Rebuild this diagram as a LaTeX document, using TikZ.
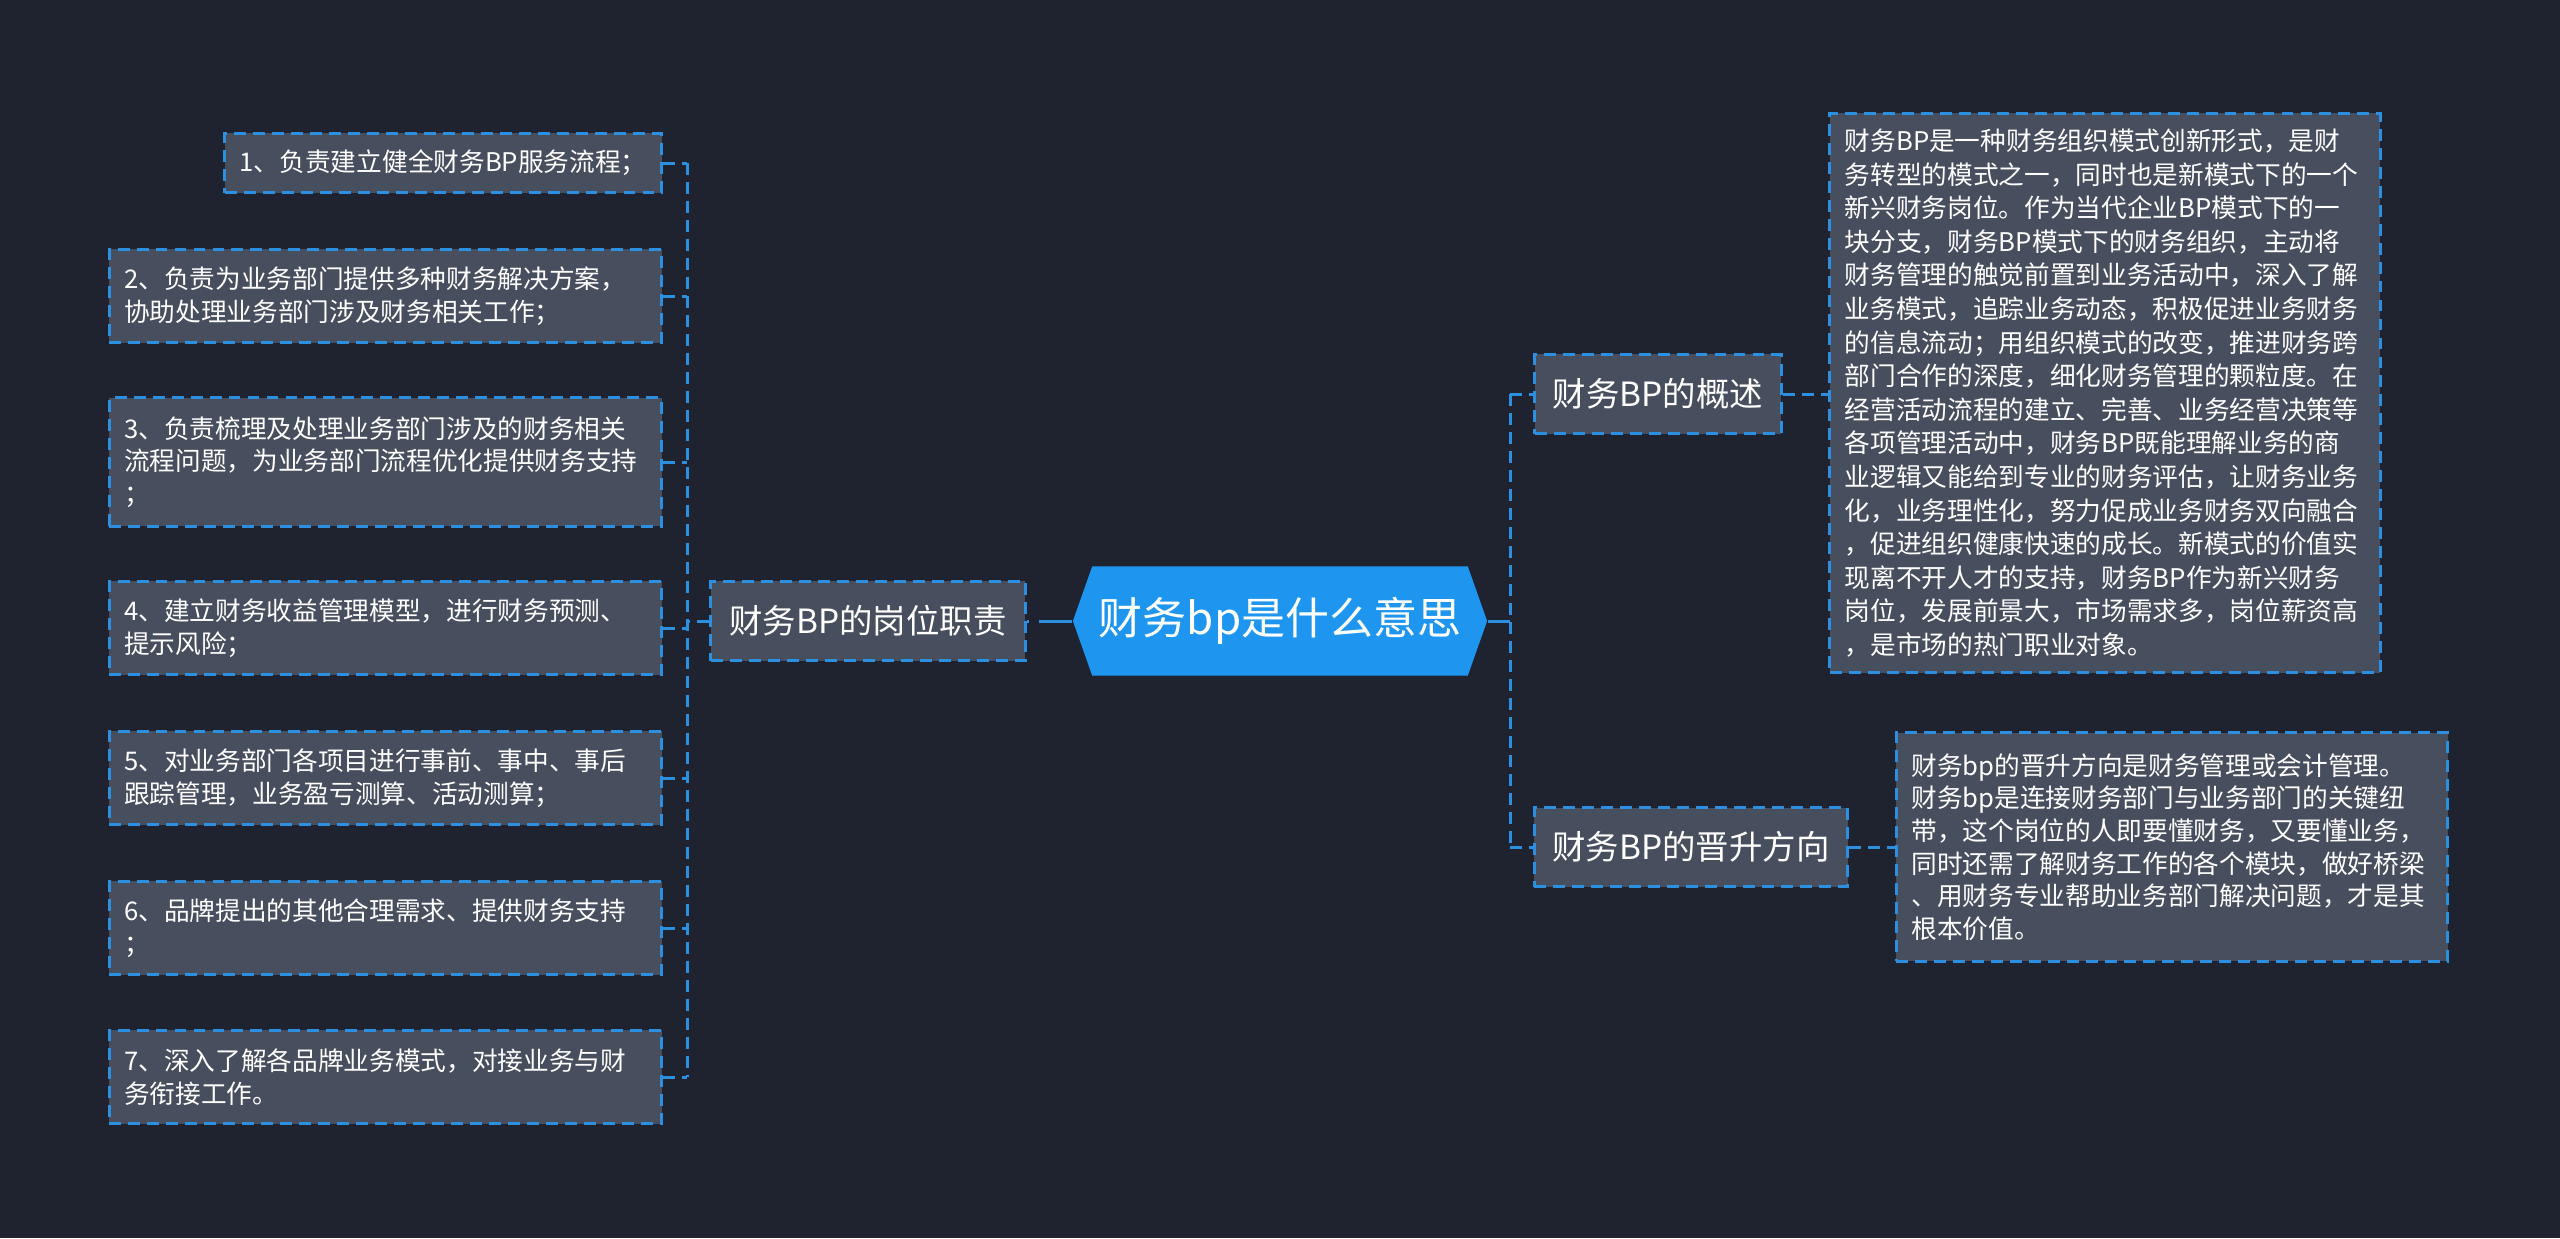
\documentclass[tikz,border=0pt]{standalone}
\usepackage{fontspec}
\setmainfont{Noto Sans CJK SC}
\usepackage{tikz}
\usetikzlibrary{shapes.symbols}
\definecolor{bgdark}{HTML}{1F2330}
\definecolor{boxgray}{HTML}{474E5D}
\definecolor{lineblue}{HTML}{2D8FE0}
\definecolor{rootblue}{HTML}{1E96F0}

\begin{document}
\begin{tikzpicture}[x=0.01cm, y=-0.01cm,
  topic/.style={signal, signal to=west and east, signal pointer angle=141,
    fill=rootblue, draw=none, minimum width=4.14cm, minimum height=1.09cm,
    inner sep=0pt, text=white, font=\fontsize{12.5pt}{15pt}\selectfont},
  branch/.style={rectangle, draw=lineblue, fill=boxgray, line width=0.85pt,
    dash pattern=on 3.4pt off 2pt, minimum height=0.79cm, inner sep=0pt,
    text=white, font=\fontsize{9.5pt}{11pt}\selectfont},
  leaf/.style={rectangle, draw=lineblue, fill=boxgray, line width=0.85pt,
    dash pattern=on 3.4pt off 2pt, inner xsep=0.15cm, inner ysep=0pt,
    align=left, text=white, font=\fontsize{7.3pt}{9.25pt}\selectfont},
  link/.style={draw=lineblue, line width=0.85pt, dash pattern=on 3.4pt off 2pt},
]
\fill[bgdark] (0,0) rectangle (2560,1238);

\node[topic] (root) at (1280,621) {财务bp是什么意思};

\node[branch, minimum width=3.14cm] (duty) at (868,621) {财务BP的岗位职责};
\node[branch, minimum width=2.46cm] (overview) at (1658,394) {财务BP的概述};
\node[branch, minimum width=3.13cm] (promo) at (1691,847) {财务BP的晋升方向};

\node[leaf, anchor=east, minimum height=0.59cm] (d1) at (663,163) {1、负责建立健全财务BP服务流程；};
\node[leaf, anchor=east, text width=5.22cm, minimum height=0.93cm] (d2) at (663,296) {2、负责为业务部门提供多种财务解决方案，\\协助处理业务部门涉及财务相关工作；};
\node[leaf, anchor=east, text width=5.22cm, minimum height=1.28cm] (d3) at (663,462) {3、负责梳理及处理业务部门涉及的财务相关\\流程问题，为业务部门流程优化提供财务支持\\；};
\node[leaf, anchor=east, text width=5.22cm, minimum height=0.93cm] (d4) at (663,628) {4、建立财务收益管理模型，进行财务预测、\\提示风险；};
\node[leaf, anchor=east, text width=5.22cm, minimum height=0.93cm] (d5) at (663,778) {5、对业务部门各项目进行事前、事中、事后\\跟踪管理，业务盈亏测算、活动测算；};
\node[leaf, anchor=east, text width=5.22cm, minimum height=0.93cm] (d6) at (663,928) {6、品牌提出的其他合理需求、提供财务支持\\；};
\node[leaf, anchor=east, text width=5.22cm, minimum height=0.93cm] (d7) at (663,1077) {7、深入了解各品牌业务模式，对接业务与财\\务衔接工作。};

\node[leaf, text width=5.2cm, minimum height=5.59cm, font=\fontsize{7.3pt}{9.55pt}\selectfont] (overviewtxt) at (2105,393) {财务BP是一种财务组织模式创新形式，是财\\务转型的模式之一，同时也是新模式下的一个\\新兴财务岗位。作为当代企业BP模式下的一\\块分支，财务BP模式下的财务组织，主动将\\财务管理的触觉前置到业务活动中，深入了解\\业务模式，追踪业务动态，积极促进业务财务\\的信息流动；用组织模式的改变，推进财务跨\\部门合作的深度，细化财务管理的颗粒度。在\\经营活动流程的建立、完善、业务经营决策等\\各项管理活动中，财务BP既能理解业务的商\\业逻辑又能给到专业的财务评估，让财务业务\\化，业务理性化，努力促成业务财务双向融合\\，促进组织健康快速的成长。新模式的价值实\\现离不开人才的支持，财务BP作为新兴财务\\岗位，发展前景大，市场需求多，岗位薪资高\\，是市场的热门职业对象。};
\node[leaf, text width=5.21cm, minimum height=2.28cm] (promotxt) at (2172,847) {财务bp的晋升方向是财务管理或会计管理。\\财务bp是连接财务部门与业务部门的关键纽\\带，这个岗位的人即要懂财务，又要懂业务，\\同时还需了解财务工作的各个模块，做好桥梁\\、用财务专业帮助业务部门解决问题，才是其\\根本价值。};

\coordinate (lspine) at (687,0);
\coordinate (rspine) at (1510,0);

\draw[link, dash pattern=on 9.4pt off 2.8pt] (root.west) -- (duty.east);
\draw[link] (duty.west) -- (duty.west -| lspine);
\draw[link] (d1.east -| lspine) -- (d7.east -| lspine);
\foreach \i in {1,...,7}
  \draw[link] (d\i.east) -- (d\i.east -| lspine);

\draw[link, solid] (root.east) -- (root.east -| rspine);
\draw[link] (overview.west -| rspine) -- (promo.west -| rspine);
\draw[link] (overview.west -| rspine) -- (overview.west);
\draw[link] (promo.west -| rspine) -- (promo.west);
\draw[link] (overview.east) -- (overviewtxt.west |- overview.east);
\draw[link] (promo.east) -- (promotxt.west |- promo.east);

\end{tikzpicture}
\end{document}
